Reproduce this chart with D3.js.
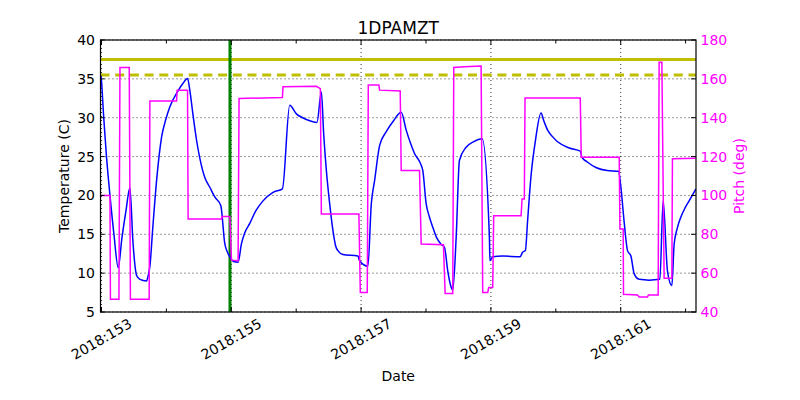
<!DOCTYPE html>
<html><head><meta charset="utf-8">
<script src="https://cdn.jsdelivr.net/npm/d3@7"></script>
<style>body{margin:0;background:#fff} svg{display:block} text{font-family:"DejaVu Sans",sans-serif}</style>
</head><body><svg id="c" width="800" height="400"></svg>
<script>
const chartTitle = "1DPAMZT";
const xLabel = "Date";
const yLeftLabel = "Temperature (C)";
const yRightLabel = "Pitch (deg)";
const xMajorDays = [153, 155, 157, 159, 161];
const xMinorDays = [154, 156, 158, 160, 162];
const xTickLabels = ["2018:153", "2018:155", "2018:157", "2018:159", "2018:161"];
const tempTicks = [5, 10, 15, 20, 25, 30, 35, 40];
const pitchTicks = [40, 60, 80, 100, 120, 140, 160, 180];
const planningLimit = 37.5;
const cautionLimit = 35.5;
const eventDay = 154.98;

const tempDays = [152.977,152.992,153.031,153.077,153.131,153.192,153.258,153.315,153.377,153.438,153.485,153.542,153.592,153.695,153.715,153.746,153.792,153.849,153.926,153.992,154.054,154.182,154.254,154.326,154.362,154.408,154.465,154.515,154.592,154.669,154.746,154.838,154.900,154.946,154.977,155.038,155.105,155.157,155.208,155.285,155.377,155.489,155.643,155.788,155.900,156.003,156.100,156.208,156.320,156.388,156.423,156.465,156.515,156.566,156.608,156.643,156.720,156.951,156.977,157.105,157.157,157.208,157.285,157.388,157.500,157.618,157.695,157.762,157.823,157.915,157.951,158.003,158.054,158.105,158.162,158.234,158.285,158.335,158.377,158.412,158.465,158.515,158.618,158.731,158.865,158.977,158.985,159.028,159.182,159.449,159.489,159.531,159.566,159.618,159.685,159.772,159.815,159.874,159.946,160.028,160.208,160.377,160.403,160.485,160.618,160.792,160.966,161.003,161.054,161.105,161.157,161.208,161.285,161.438,161.603,161.654,161.720,161.788,161.823,161.869,161.926,161.992,162.054,162.160];
const tempValues = [35.5,35.3,30.5,25.0,20.0,15.0,10.7,14.5,18.0,21.0,14.0,9.7,9.2,9.0,9.5,10.9,16.0,21.9,27.5,29.8,31.4,33.5,34.4,35.05,33.5,30.5,27.1,24.8,22.3,21.05,19.8,18.7,13.8,12.6,12.1,11.5,11.4,13.8,15.2,16.4,18.0,19.3,20.4,20.85,31.6,30.5,30.0,29.6,29.4,33.3,28.0,23.2,19.0,15.5,13.5,12.9,12.4,12.2,11.6,10.9,18.9,21.9,26.4,28.2,29.6,30.7,28.4,26.7,25.4,24.1,23.2,18.9,17.2,15.9,14.6,13.7,13.3,10.3,8.5,7.8,14.6,24.5,26.2,26.9,27.3,14.6,11.6,12.1,12.2,12.1,12.7,12.9,16.8,22.5,27.0,30.6,29.6,28.4,27.6,26.9,26.1,25.7,24.9,24.3,23.6,23.2,23.1,21.05,16.5,12.9,12.2,9.9,9.2,9.1,9.2,19.3,10.3,8.4,13.7,15.7,17.2,18.4,19.3,20.85];

const pitchDays = [152.977,153.131,153.138,153.269,153.285,153.428,153.446,153.735,153.746,154.157,154.166,154.326,154.335,154.849,154.858,154.977,155.003,155.105,155.120,155.788,155.797,156.311,156.372,156.388,156.966,156.988,157.095,157.111,157.274,157.285,157.603,157.618,157.900,157.926,158.269,158.295,158.412,158.428,158.592,158.849,158.874,158.951,158.966,159.028,159.043,159.465,159.480,159.515,159.526,160.377,160.392,160.977,160.988,161.038,161.043,161.258,161.285,161.412,161.428,161.577,161.592,161.634,161.669,161.788,161.797,162.160];
const pitchValues = [100.0,100.0,46.6,46.6,165.9,165.9,46.6,46.6,148.6,148.6,154.2,154.2,87.9,87.9,89.1,89.1,66.7,66.4,149.9,150.4,155.9,156.2,155.0,90.5,90.5,50.0,50.0,156.8,156.8,154.2,153.8,112.8,112.8,75.0,74.6,49.5,49.5,165.9,166.2,166.6,50.0,50.0,52.6,52.6,89.6,89.6,98.2,98.2,150.2,150.2,119.7,119.7,82.7,82.7,49.1,48.8,47.7,47.7,48.8,48.8,168.5,168.5,57.4,57.4,118.9,119.2];

const L = 100.5, R = 696, T = 40, B = 312;
const svg = d3.select("#c");
const x = d3.scaleLinear().domain([152.985, 162.16]).range([L, R]);
const yT = d3.scaleLinear().domain([5, 40]).range([B, T]);
const yP = d3.scaleLinear().domain([40, 180]).range([B, T]);

svg.append("defs").append("clipPath").attr("id", "clip")
  .append("rect").attr("x", L).attr("y", T).attr("width", R - L).attr("height", B - T);

// grid
const grid = svg.append("g").attr("stroke", "#000").attr("stroke-width", 0.8).attr("stroke-dasharray", "1,3");
grid.selectAll("line.v").data(xMajorDays).join("line")
  .attr("x1", d => x(d)).attr("x2", d => x(d)).attr("y1", T).attr("y2", B);
grid.selectAll("line.h").data(tempTicks).join("line")
  .attr("x1", L).attr("x2", R).attr("y1", d => yT(d)).attr("y2", d => yT(d));

const plot = svg.append("g").attr("clip-path", "url(#clip)");
plot.append("line").attr("x1", L).attr("x2", R)
  .attr("y1", yT(planningLimit)).attr("y2", yT(planningLimit))
  .attr("stroke", "#bfbf00").attr("stroke-width", 3);
plot.append("line").attr("x1", L).attr("x2", R)
  .attr("y1", yT(cautionLimit)).attr("y2", yT(cautionLimit))
  .attr("stroke", "#bfbf00").attr("stroke-width", 3).attr("stroke-dasharray", "9,5.7");
plot.append("line").attr("x1", x(eventDay)).attr("x2", x(eventDay)).attr("y1", T).attr("y2", B)
  .attr("stroke", "#008000").attr("stroke-width", 3);

const tData = tempDays.map((d, i) => [d, tempValues[i]]);
const pData = pitchDays.map((d, i) => [d, pitchValues[i]]);
plot.append("path").datum(tData)
  .attr("d", d3.line().curve(d3.curveMonotoneX).x(d => x(d[0])).y(d => yT(d[1])))
  .attr("fill", "none").attr("stroke", "#0000ff").attr("stroke-width", 1.5).attr("stroke-linejoin", "round");
plot.append("path").datum(pData)
  .attr("d", d3.line().x(d => x(d[0])).y(d => yP(d[1])))
  .attr("fill", "none").attr("stroke", "#ff00ff").attr("stroke-width", 1.5);

// frame
svg.append("rect").attr("x", L).attr("y", T).attr("width", R - L).attr("height", B - T)
  .attr("fill", "none").attr("stroke", "#000").attr("stroke-width", 1.2);

// ticks
const tk = svg.append("g").attr("stroke", "#000").attr("stroke-width", 1);
xMajorDays.forEach(d => {
  tk.append("line").attr("x1", x(d)).attr("x2", x(d)).attr("y1", B).attr("y2", B - 5);
  tk.append("line").attr("x1", x(d)).attr("x2", x(d)).attr("y1", T).attr("y2", T + 5);
});
xMinorDays.forEach(d => {
  tk.append("line").attr("x1", x(d)).attr("x2", x(d)).attr("y1", B).attr("y2", B - 3.5);
  tk.append("line").attr("x1", x(d)).attr("x2", x(d)).attr("y1", T).attr("y2", T + 3.5);
});
tempTicks.forEach(v => {
  tk.append("line").attr("x1", L).attr("x2", L + 4).attr("y1", yT(v)).attr("y2", yT(v));
});
pitchTicks.forEach(v => {
  tk.append("line").attr("x1", R).attr("x2", R - 5).attr("y1", yP(v)).attr("y2", yP(v));
});

// tick labels
svg.append("g").selectAll("text").data(tempTicks).join("text")
  .attr("x", 95).attr("y", d => yT(d)).attr("dy", "0.36em")
  .attr("text-anchor", "end").attr("font-size", 14).attr("fill", "#000").text(d => d);
svg.append("g").selectAll("text").data(pitchTicks).join("text")
  .attr("x", 700.5).attr("y", d => yP(d)).attr("dy", "0.36em")
  .attr("text-anchor", "start").attr("font-size", 14).attr("fill", "#ff00ff").text(d => d);
svg.append("g").selectAll("text").data(xMajorDays).join("text")
  .attr("x", d => x(d)).attr("y", 339).attr("dominant-baseline", "central")
  .attr("text-anchor", "middle").attr("font-size", 14).attr("fill", "#000")
  .attr("transform", d => `rotate(-30,${x(d)},339)`)
  .text((d, i) => xTickLabels[i]);

// labels
svg.append("text").attr("x", (L + R) / 2).attr("y", 34).attr("text-anchor", "middle")
  .attr("font-size", 17).attr("fill", "#000").text(chartTitle);
svg.append("text").attr("x", (L + R) / 2).attr("y", 381).attr("text-anchor", "middle")
  .attr("font-size", 14).attr("fill", "#000").text(xLabel);
svg.append("text").attr("transform", `translate(69,${(T + B) / 2}) rotate(-90)`)
  .attr("text-anchor", "middle").attr("font-size", 14).attr("fill", "#000").text(yLeftLabel);
svg.append("text").attr("transform", `translate(744,${(T + B) / 2}) rotate(-90)`)
  .attr("text-anchor", "middle").attr("font-size", 14).attr("fill", "#ff00ff").text(yRightLabel);
</script></body></html>
